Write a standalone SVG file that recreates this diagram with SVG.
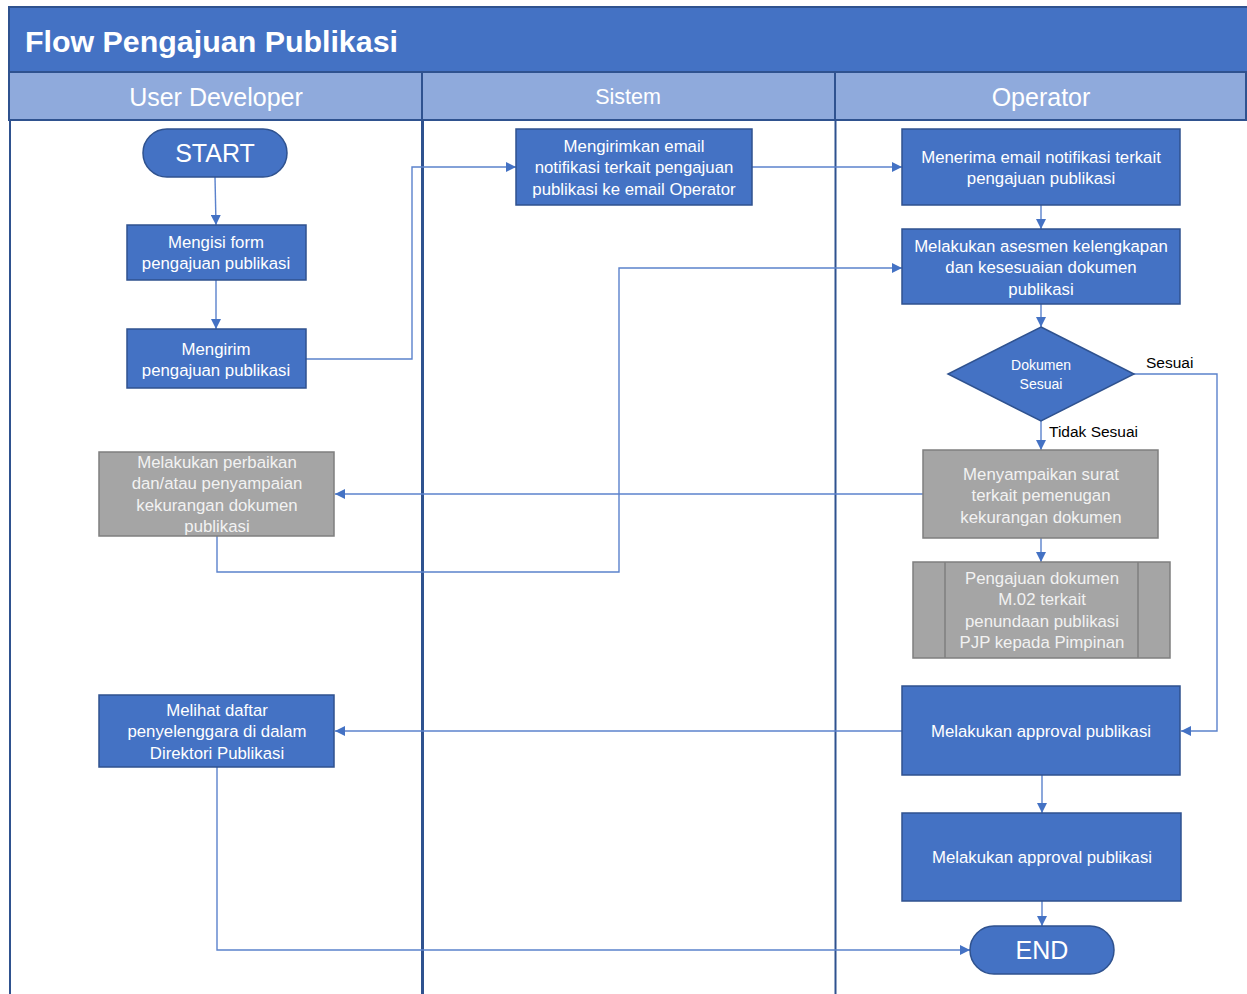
<svg xmlns="http://www.w3.org/2000/svg" width="1247" height="994" viewBox="0 0 1247 994">
<style>
.box{fill:#4472C4;stroke:#2F528F;stroke-width:1.5}
.gray{fill:#A5A5A5;stroke:#7F7F7F;stroke-width:1.5}
.t{font-family:"Liberation Sans",Arial,sans-serif;font-size:16.8px;fill:#FFFFFF;text-anchor:middle}
.tg{font-family:"Liberation Sans",Arial,sans-serif;font-size:16.8px;fill:#F2F2F2;text-anchor:middle}
.big{font-size:25px}
.small{font-size:14px}
.lbl{font-family:"Liberation Sans",Arial,sans-serif;font-size:15.5px;fill:#000000}
.lane{font-family:"Liberation Sans",Arial,sans-serif;font-size:25px;fill:#FFFFFF;text-anchor:middle}
.lane2{font-size:21.5px}
.c{fill:none;stroke:#5B82CC;stroke-width:1.4}
</style>
<defs>
<marker id="ah" viewBox="0 0 10 10" refX="10" refY="5" markerWidth="10" markerHeight="10" markerUnits="userSpaceOnUse" orient="auto">
<path d="M0,0 L10,5 L0,10 z" fill="#4472C4"/>
</marker>
</defs>
<rect width="1247" height="994" fill="#FFFFFF"/>
<g id="pool">
<rect x="9" y="7" width="1240" height="65" fill="#4472C4" stroke="#2F528F" stroke-width="2"/>
<text x="25" y="52" font-family="Liberation Sans,Arial,sans-serif" font-weight="bold" font-size="30" fill="#FFFFFF" textLength="373" lengthAdjust="spacingAndGlyphs">Flow Pengajuan Publikasi</text>
<rect x="9" y="72" width="413" height="48" fill="#8FAADC" stroke="#2F528F" stroke-width="2"/>
<rect x="422" y="72" width="413" height="48" fill="#8FAADC" stroke="#2F528F" stroke-width="2"/>
<rect x="835" y="72" width="411" height="48" fill="#8FAADC" stroke="#2F528F" stroke-width="2"/>
<text class="lane" x="216" y="106">User Developer</text>
<text class="lane lane2" x="628" y="104">Sistem</text>
<text class="lane" x="1041" y="106">Operator</text>
<line x1="10" y1="120" x2="10" y2="994" stroke="#2F528F" stroke-width="2"/>
<line x1="422.5" y1="120" x2="422.5" y2="994" stroke="#2F528F" stroke-width="3"/>
<line x1="835.5" y1="120" x2="835.5" y2="994" stroke="#2F528F" stroke-width="2"/>
</g>
<g id="connectors">
<path class="c" d="M215,177 L216,225" marker-end="url(#ah)"/>
<path class="c" d="M216,280 L216,329" marker-end="url(#ah)"/>
<path class="c" d="M306,359 L412,359 L412,167 L516,167" marker-end="url(#ah)"/>
<path class="c" d="M752,167 L902,167" marker-end="url(#ah)"/>
<path class="c" d="M1041,205 L1041,229" marker-end="url(#ah)"/>
<path class="c" d="M1041,304 L1041,327" marker-end="url(#ah)"/>
<path class="c" d="M1041,421 L1041,450" marker-end="url(#ah)"/>
<path class="c" d="M1134,374 L1217,374 L1217,731 L1181,731" marker-end="url(#ah)"/>
<path class="c" d="M923,494 L335,494" marker-end="url(#ah)"/>
<path class="c" d="M1041,538 L1041,562" marker-end="url(#ah)"/>
<path class="c" d="M217,536 L217,572 L619,572 L619,268 L902,268" marker-end="url(#ah)"/>
<path class="c" d="M902,731 L335,731" marker-end="url(#ah)"/>
<path class="c" d="M1042,775 L1042,813" marker-end="url(#ah)"/>
<path class="c" d="M1042,901 L1042,926" marker-end="url(#ah)"/>
<path class="c" d="M217,767 L217,950 L970,950" marker-end="url(#ah)"/>
<text class="lbl" x="1146" y="368">Sesuai</text>
<text class="lbl" x="1049" y="437">Tidak Sesuai</text>
</g>
<g id="start">
<rect class="box" x="143" y="129" width="144" height="48" rx="24"/>
<text class="t big" x="215" y="162">START</text>
</g>
<g id="mengisi">
<rect class="box" x="127" y="225" width="179" height="55"/>
<text class="t" x="216" y="248">Mengisi form</text>
<text class="t" x="216" y="269">pengajuan publikasi</text>
</g>
<g id="mengirim">
<rect class="box" x="127" y="329" width="179" height="59"/>
<text class="t" x="216" y="355">Mengirim</text>
<text class="t" x="216" y="376">pengajuan publikasi</text>
</g>
<g id="kirim-email">
<rect class="box" x="516" y="129" width="236" height="76"/>
<text class="t" x="634" y="152">Mengirimkan email</text>
<text class="t" x="634" y="173">notifikasi terkait pengajuan</text>
<text class="t" x="634" y="195">publikasi ke email Operator</text>
</g>
<g id="terima-email">
<rect class="box" x="902" y="129" width="278" height="76"/>
<text class="t" x="1041" y="163">Menerima email notifikasi terkait</text>
<text class="t" x="1041" y="184">pengajuan publikasi</text>
</g>
<g id="asesmen">
<rect class="box" x="902" y="229" width="278" height="75"/>
<text class="t" x="1041" y="252">Melakukan asesmen kelengkapan</text>
<text class="t" x="1041" y="273">dan kesesuaian dokumen</text>
<text class="t" x="1041" y="295">publikasi</text>
</g>
<g id="keputusan">
<polygon class="box" points="1041,327 1134,374 1041,421 948,374"/>
<text class="t small" x="1041" y="370">Dokumen</text>
<text class="t small" x="1041" y="389">Sesuai</text>
</g>
<g id="menyampaikan">
<rect class="gray" x="923" y="450" width="235" height="88"/>
<text class="tg" x="1041" y="480">Menyampaikan surat</text>
<text class="tg" x="1041" y="501">terkait pemenugan</text>
<text class="tg" x="1041" y="523">kekurangan dokumen</text>
</g>
<g id="pengajuan-m02">
<rect class="gray" x="913" y="562" width="257" height="96"/>
<line x1="945" y1="562" x2="945" y2="658" stroke="#7F7F7F" stroke-width="1.5"/>
<line x1="1138" y1="562" x2="1138" y2="658" stroke="#7F7F7F" stroke-width="1.5"/>
<text class="tg" x="1042" y="584">Pengajuan dokumen</text>
<text class="tg" x="1042" y="605">M.02 terkait</text>
<text class="tg" x="1042" y="627">penundaan publikasi</text>
<text class="tg" x="1042" y="648">PJP kepada Pimpinan</text>
</g>
<g id="perbaikan">
<rect class="gray" x="99" y="452" width="235" height="84"/>
<text class="tg" x="217" y="468">Melakukan perbaikan</text>
<text class="tg" x="217" y="489">dan/atau penyampaian</text>
<text class="tg" x="217" y="511">kekurangan dokumen</text>
<text class="tg" x="217" y="532">publikasi</text>
</g>
<g id="melihat">
<rect class="box" x="99" y="695" width="235" height="72"/>
<text class="t" x="217" y="716">Melihat daftar</text>
<text class="t" x="217" y="737">penyelenggara di dalam</text>
<text class="t" x="217" y="759">Direktori Publikasi</text>
</g>
<g id="approval-1">
<rect class="box" x="902" y="686" width="278" height="89"/>
<text class="t" x="1041" y="737">Melakukan approval publikasi</text>
</g>
<g id="approval-2">
<rect class="box" x="902" y="813" width="279" height="88"/>
<text class="t" x="1042" y="863">Melakukan approval publikasi</text>
</g>
<g id="end">
<rect class="box" x="970" y="926" width="144" height="48" rx="24"/>
<text class="t big" x="1042" y="959">END</text>
</g>
</svg>
